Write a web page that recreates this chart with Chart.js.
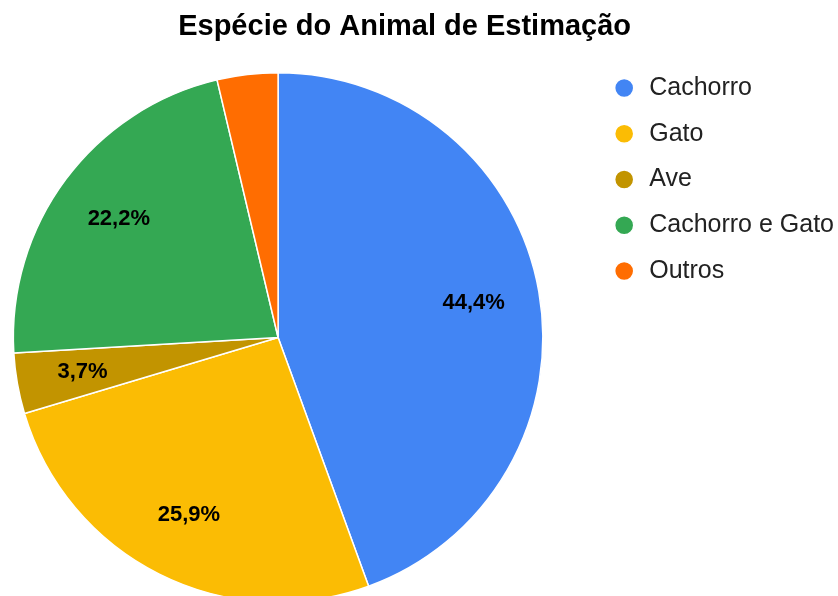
<!DOCTYPE html>
<html>
<head>
<meta charset="utf-8">
<script src="https://cdn.jsdelivr.net/npm/chart.js@4.4.1/dist/chart.umd.min.js"></script>
<style>
  html, body { margin: 0; padding: 0; overflow: hidden; background: #fff; }
  #wrap { position: absolute; left: -40px; top: 0; width: 890px; height: 603px; }
</style>
</head>
<body>
<div id="wrap"><canvas id="canvas" width="890" height="603"></canvas></div>
<script>
const chartTitle = 'Espécie do Animal de Estimação';
const species = ['Cachorro', 'Gato', 'Ave', 'Cachorro e Gato', 'Outros'];
const counts = [12, 7, 1, 6, 1];
const sliceColors = ['#4285F4', '#FBBC04', '#C29400', '#34A853', '#FF6D01'];

// percent labels inside slices, hidden when the text does not fit in its slice
const sliceLabels = {
    id: 'sliceLabels',
    afterDatasetsDraw(chart) {
        let ctx = chart.ctx;
        let meta = chart.getDatasetMeta(0);
        let data = chart.data.datasets[0].data;
        let total = data.reduce((a, b) => a + b, 0);
        ctx.save();
        ctx.font = 'bold 22px "Liberation Sans", Arial, sans-serif';
        ctx.fillStyle = '#000';
        ctx.textAlign = 'center';
        ctx.textBaseline = 'middle';
        meta.data.forEach((arc, i) => {
            let p = arc.getProps(['x', 'y', 'startAngle', 'endAngle', 'outerRadius'], true);
            let mid = (p.startAngle + p.endAngle) / 2;
            let r = p.outerRadius * 0.75;
            let lx = p.x + Math.cos(mid) * r;
            let ly = p.y + Math.sin(mid) * r;
            let txt = (data[i] / total * 100).toFixed(1).replace('.', ',') + '%';
            let w = ctx.measureText(txt).width / 2;
            let h = 8;
            let span = p.endAngle - p.startAngle;
            let fits = [[-w, -h], [w, -h], [-w, h], [w, h]].every(c => {
                let dx = lx + c[0] - p.x, dy = ly + c[1] - p.y;
                let a = Math.atan2(dy, dx) - p.startAngle;
                a = ((a % (2 * Math.PI)) + 2 * Math.PI) % (2 * Math.PI);
                return a <= span && Math.hypot(dx, dy) < p.outerRadius;
            });
            if (fits) ctx.fillText(txt, lx, ly);
        });
        ctx.restore();
    }
};

let ctx = document.getElementById('canvas').getContext('2d');
window.myPie = new Chart(ctx, {
    type: 'pie',
    data: {
        labels: species,
        datasets: [{
            data: counts,
            backgroundColor: sliceColors,
            borderColor: '#ffffff',
            borderWidth: 1.5,
            hoverOffset: 0
        }]
    },
    options: {
        responsive: false,
        animation: false,
        layout: { padding: { left: 5.25, right: 6, top: 0, bottom: 0 } },
        plugins: {
            title: {
                display: true,
                text: chartTitle,
                color: '#000',
                font: { family: '"Liberation Sans", Arial, sans-serif', size: 29, weight: 'bold' },
                padding: { top: 9.6, bottom: 27.6 }
            },
            legend: {
                position: 'right',
                align: 'start',
                fullSize: true,
                title: {
                    display: true,
                    text: '',
                    font: { size: 10 },
                    padding: { top: 42.75, bottom: 0 }
                },
                labels: {
                    usePointStyle: true,
                    pointStyle: 'circle',
                    boxHeight: 13.5,
                    padding: 20.75,
                    color: '#222',
                    font: { family: '"Liberation Sans", Arial, sans-serif', size: 25 }
                }
            },
            tooltip: { enabled: false }
        }
    },
    plugins: [sliceLabels]
});
</script>
</body>
</html>
